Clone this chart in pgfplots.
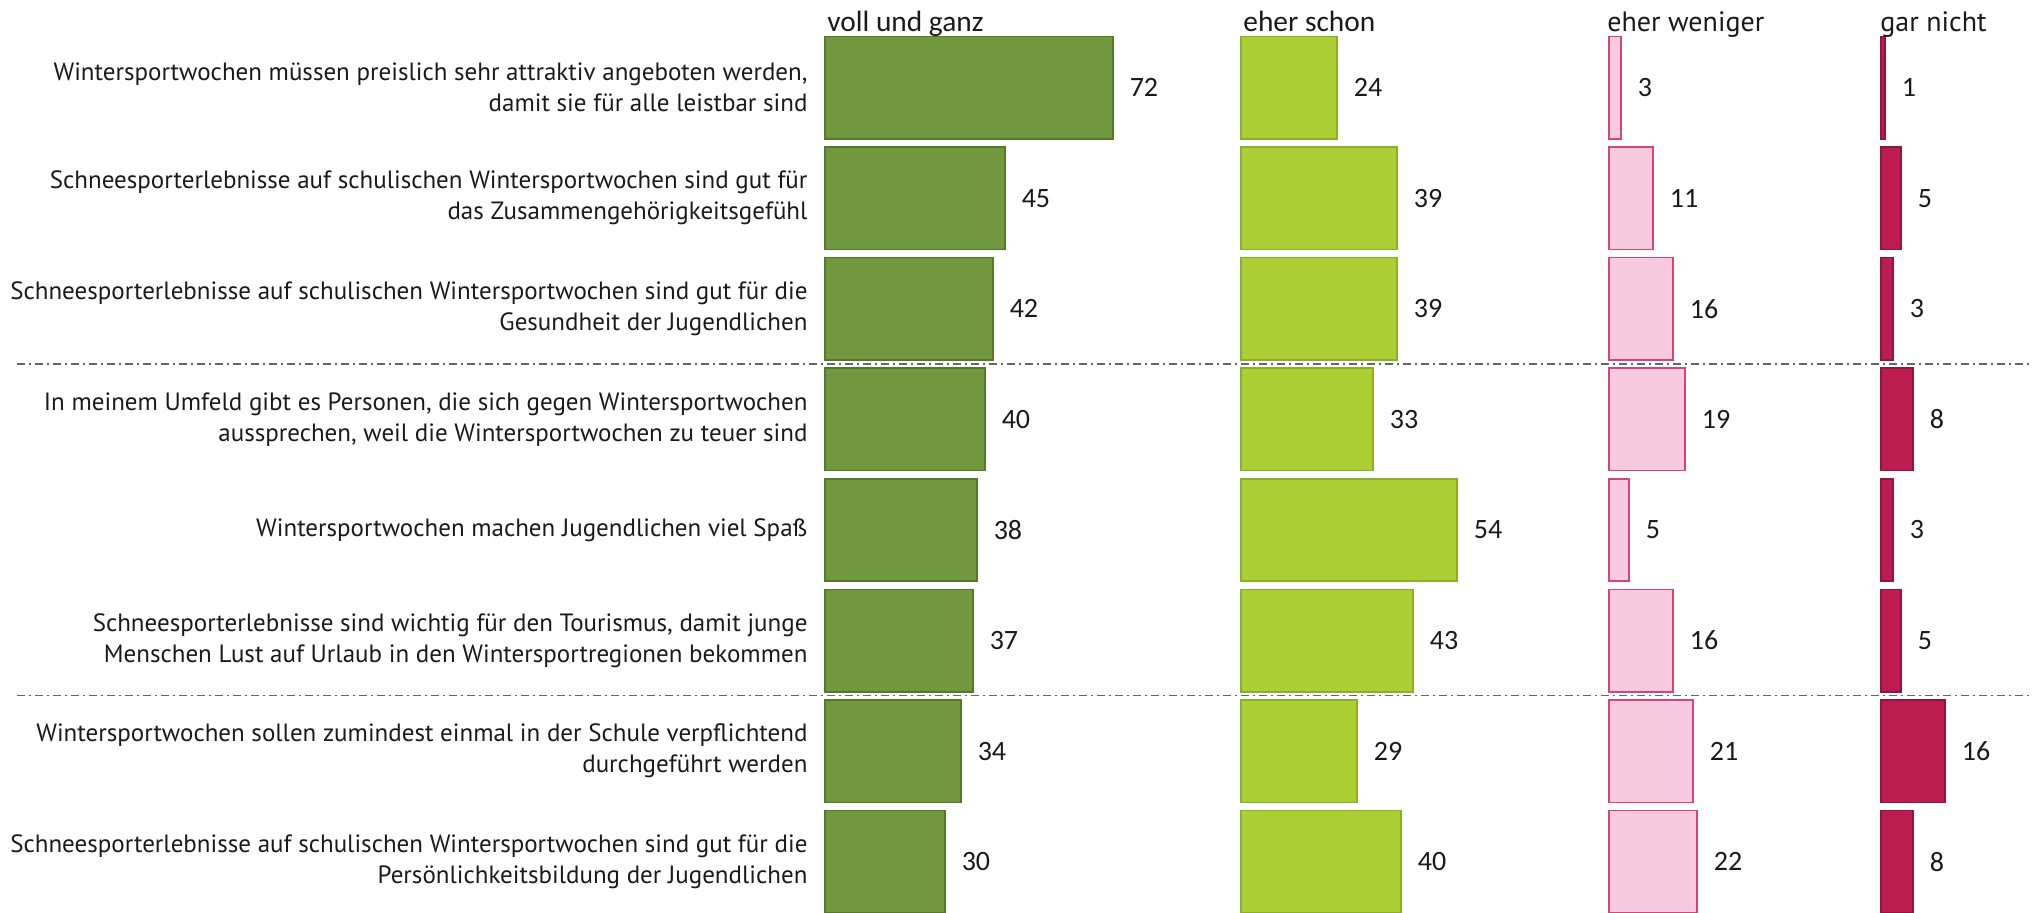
\documentclass[border=0pt]{standalone}
\usepackage{pgfplots}
\pgfplotsset{compat=1.18}
\usepackage{fontspec}
\setmainfont{PT Sans}
\newfontfamily\numfont{Carlito}
\definecolor{gAfill}{HTML}{70993F}
\definecolor{gAedge}{HTML}{55782C}
\definecolor{gBfill}{HTML}{ADCF36}
\definecolor{gBedge}{HTML}{8CAE2C}
\definecolor{gCfill}{HTML}{F7CADF}
\definecolor{gCedge}{HTML}{D6457A}
\definecolor{gDfill}{HTML}{BC1C50}
\definecolor{gDedge}{HTML}{8E1640}
\definecolor{txt}{HTML}{1A1A1A}
\pgfplotsset{rowaxis/.style={
  xbar, bar shift=0pt, bar width=0.926,
  x=2pt, y=55.3pt, xmin=0, ymin=0.25, ymax=8.55, y dir=reverse,
  scale only axis, anchor=north west,
  axis line style={draw=none}, tick style={draw=none},
  xtick=\empty, clip=false,
  /pgf/number format/assume math mode=true,
  nodes near coords,
  nodes near coords style={anchor=west, inner sep=0pt, xshift=8pt,
    font=\numfont\fontsize{14}{16}\selectfont, text=txt},
}}
\begin{document}
\begin{tikzpicture}
\useasboundingbox (0pt,0pt) rectangle (1016.5pt,-456pt);
% Axis A
\begin{axis}[rowaxis, at={(412.5pt,-2.275pt)}, xmax=90,
  ytick={1,2,3,4,5,6,7,8},
  yticklabel style={align=right, inner sep=0pt, xshift=-4.3pt, text=txt,
    font=\fontsize{12.5}{15.5}\selectfont},
  yticklabels={
    {Wintersportwochen müssen preislich sehr attraktiv angeboten werden,\\damit sie für alle leistbar sind},
    {Schneesporterlebnisse auf schulischen Wintersportwochen sind gut für\\das Zusammengehörigkeitsgefühl},
    {Schneesporterlebnisse auf schulischen Wintersportwochen sind gut für die\\Gesundheit der Jugendlichen},
    {In meinem Umfeld gibt es Personen, die sich gegen Wintersportwochen\\aussprechen, weil die Wintersportwochen zu teuer sind},
    {Wintersportwochen machen Jugendlichen viel Spaß},
    {Schneesporterlebnisse sind wichtig für den Tourismus, damit junge\\Menschen Lust auf Urlaub in den Wintersportregionen bekommen},
    {Wintersportwochen sollen zumindest einmal in der Schule verpflichtend\\durchgeführt werden},
    {Schneesporterlebnisse auf schulischen Wintersportwochen sind gut für die\\Persönlichkeitsbildung der Jugendlichen}
  }]
\addplot[fill=gAfill, draw=gAedge, line width=0.8pt] coordinates {
  (72,1) (45,2) (42,3) (40,4) (38,5) (37,6) (34,7) (30,8)};
\draw[gray!80!black, line width=0.6pt, dash pattern=on 4pt off 2pt on 1pt off 2pt]
  (axis cs:-202,3.5) -- (axis cs:302,3.5);
\draw[gray!80!black, line width=0.6pt, dash pattern=on 4pt off 2pt on 1pt off 2pt]
  (axis cs:-202,6.5) -- (axis cs:302,6.5);
\node[anchor=base west, inner sep=0pt, yshift=2.5pt, xshift=1pt, text=txt,
  font=\numfont\fontsize{14.7}{16}\selectfont] at (axis cs:0,0.537) {voll und ganz};
\end{axis}
% Axis B
\begin{axis}[rowaxis, at={(620.5pt,-2.275pt)}, xmax=80, ytick=\empty]
\addplot[fill=gBfill, draw=gBedge, line width=0.8pt] coordinates {
  (24,1) (39,2) (39,3) (33,4) (54,5) (43,6) (29,7) (40,8)};
\node[anchor=base west, inner sep=0pt, yshift=2.5pt, xshift=1pt, text=txt,
  font=\numfont\fontsize{14.7}{16}\selectfont] at (axis cs:0,0.537) {eher schon};
\end{axis}
% Axis C
\begin{axis}[rowaxis, at={(804.5pt,-2.275pt)}, xmax=60, ytick=\empty]
\addplot[fill=gCfill, draw=gCedge, line width=0.8pt] coordinates {
  (3,1) (11,2) (16,3) (19,4) (5,5) (16,6) (21,7) (22,8)};
\node[anchor=base west, inner sep=0pt, yshift=2.5pt, xshift=-1pt, text=txt,
  font=\fontsize{14}{16}\selectfont] at (axis cs:0,0.537) {eher weniger};
\end{axis}
% Axis D
\begin{axis}[rowaxis, at={(940.5pt,-2.275pt)}, xmax=35, ytick=\empty]
\addplot[fill=gDfill, draw=gDedge, line width=0.8pt] coordinates {
  (1,1) (5,2) (3,3) (8,4) (3,5) (5,6) (16,7) (8,8)};
\node[anchor=base west, inner sep=0pt, yshift=2.5pt, xshift=-0.5pt, text=txt,
  font=\fontsize{14}{16}\selectfont] at (axis cs:0,0.537) {gar nicht};
\end{axis}
\end{tikzpicture}
\end{document}
